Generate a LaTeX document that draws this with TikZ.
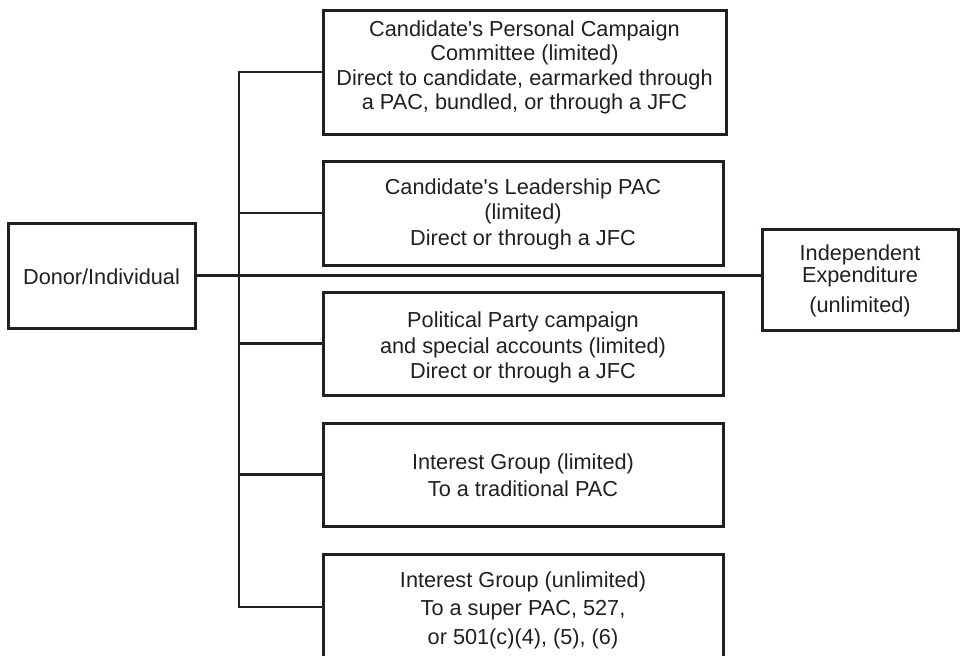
\documentclass[tikz,border=0pt]{standalone}
\usepackage{fontspec}
\setmainfont{Liberation Sans}
\definecolor{ink}{HTML}{231F20}
\tikzset{
  boxnode/.style={draw=ink, line width=3pt, inner sep=0pt, anchor=center},
  boxtext/.style={text=ink, align=center, inner sep=0pt},
  link/.style={draw=ink, line width=2.9pt}
}
\begin{document}
\begin{tikzpicture}[x=1pt,y=-1pt]
\useasboundingbox (0,0) rectangle (962,656);
\fill[white] (0,0) rectangle (962,656);
\newcommand{\q}{\textquotesingle}
\node[boxnode, minimum width=187pt, minimum height=105pt,
  label={[boxtext, font=\fontsize{21.7}{24.5}\selectfont, yshift=-1pt]center:Donor/Individual}] (donor) at (101.5,275.5) {};
\node[boxnode, minimum width=403pt, minimum height=124pt,
  label={[boxtext, font=\fontsize{21.7}{24.3}\selectfont, yshift=4.5pt]center:{Candidate\q s Personal Campaign\\Committee (limited)\\Direct to candidate, earmarked through\\a PAC, bundled, or through a JFC}}] (b1) at (524.5,72) {};
\node[boxnode, minimum width=400pt, minimum height=104pt,
  label={[boxtext, font=\fontsize{21.7}{25.5}\selectfont, yshift=-1pt]center:{Candidate\q s Leadership PAC\\(limited)\\Direct or through a JFC}}] (b2) at (523,213) {};
\node[boxnode, minimum width=400pt, minimum height=103pt,
  label={[boxtext, font=\fontsize{21.7}{25.5}\selectfont, yshift=-4pt]center:{Political Party campaign\\and special accounts (limited)\\Direct or through a JFC}}] (b3) at (523,343.5) {};
\node[boxnode, minimum width=400pt, minimum height=103pt,
  label={[boxtext, font=\fontsize{21.7}{27}\selectfont, yshift=-1pt]center:{Interest Group (limited)\\To a traditional PAC}}] (b4) at (523,474.5) {};
\node[boxnode, minimum width=400pt, minimum height=106pt,
  label={[boxtext, font=\fontsize{21.7}{28.5}\selectfont, yshift=-3pt]center:{Interest Group (unlimited)\\To a super PAC, 527,\\or 501(c)(4), (5), (6)}}] (b5) at (523,607) {};
\node[boxnode, minimum width=196pt, minimum height=101pt,
  label={[boxtext, font=\fontsize{21.7}{22}\selectfont, yshift=-1pt]center:{Independent\\Expenditure\\[8pt](unlimited)}}] (ind) at (860,279.5) {};
\coordinate (tt) at (239,72);
\coordinate (tb) at (239,607);
\draw[link] (b1.west) -- (tt) -- (tb) -- (b5.west);
\draw[link] (b2.west) -- (b2.west -| tt);
\draw[link] (b3.west) -- (b3.west -| tt);
\draw[link] (b4.west) -- (b4.west -| tt);
\draw[link] (donor.east) -- (donor.east -| ind.west);
\end{tikzpicture}
\end{document}
